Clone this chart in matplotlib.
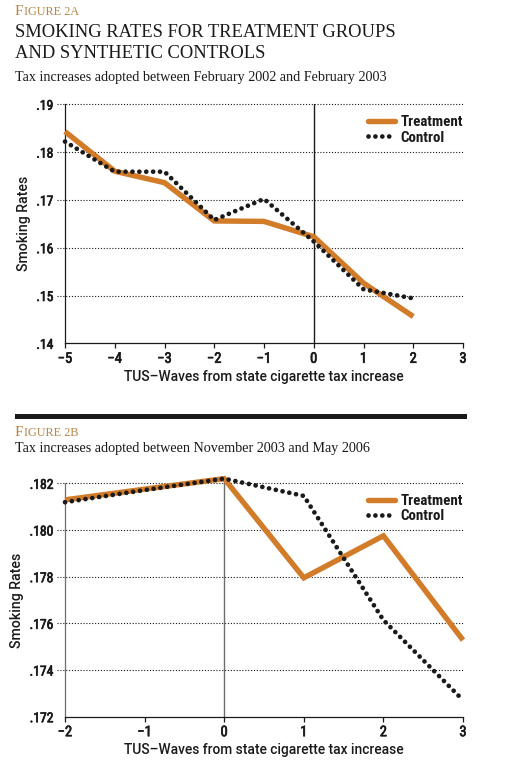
"""Smoking rates for treatment groups and synthetic controls (Figures 2A and 2B)."""

import matplotlib

matplotlib.use("Agg")

import matplotlib.patheffects as pe
import matplotlib.pyplot as plt
from matplotlib import font_manager
from matplotlib.patches import Rectangle

COLORS = {"ink": "#1a1a1a", "orange": "#d27b29", "gold": "#b8864a", "grey": "#6e6e6e"}

# Figure 2A: tax increases adopted between February 2002 and February 2003
waves_a = [-5, -4, -3, -2, -1, 0, 1, 2]
treatment_a = [0.1843, 0.1760, 0.1736, 0.1656, 0.1655, 0.1623, 0.1526, 0.1456]
control_a = [0.1822, 0.1759, 0.1759, 0.1658, 0.1702, 0.1613, 0.1513, 0.1494]
xticks_a = [-5, -4, -3, -2, -1, 0, 1, 2, 3]
yticks_a = [0.14, 0.15, 0.16, 0.17, 0.18, 0.19]

# Figure 2B: tax increases adopted between November 2003 and May 2006
waves_b = [-2, -1, 0, 1, 2, 3]
treatment_b = [0.18129, 0.18175, 0.1822, 0.17795, 0.17975, 0.17528]
control_b = [0.18119, 0.18171, 0.1822, 0.18146, 0.17614, 0.17271]
xticks_b = [-2, -1, 0, 1, 2, 3]
yticks_b = [0.172, 0.174, 0.176, 0.178, 0.180, 0.182]

names = {f.name for f in font_manager.fontManager.ttflist}
NARROW = next(
    (n for n in ["Roboto Condensed", "Liberation Sans Narrow"] if n in names),
    "DejaVu Sans",
)
SANS = "Roboto" if "Roboto" in names else "DejaVu Sans"
SERIF = "Liberation Serif" if "Liberation Serif" in names else "DejaVu Serif"
TICK_KW = {"family": NARROW, "stretch": "condensed", "weight": "normal"}
LABEL_KW = {"family": SANS, "weight": "medium"}
HEAVY = [pe.withStroke(linewidth=0.5, foreground=COLORS["ink"])]


def small_caps(fig, x, y, word, rest):
    """Draw 'FIGURE 2A' style small caps: first letter large, the rest smaller."""
    first = fig.text(x, y, word[0], fontsize=11, family=SERIF, color=COLORS["gold"], va="baseline")
    fig.canvas.draw()
    box = first.get_window_extent()
    fig.text(
        box.x1 / fig.bbox.width, y, word[1:].upper() + " " + rest,
        fontsize=8.8, family=SERIF, color=COLORS["gold"], va="baseline",
    )


def fig_xy(px, py):
    return px / 516, 1 - py / 772


def draw_panel(ax, waves, treatment, control, xticks, yticks, decimals, spine_color):
    ax.plot(waves, treatment, color=COLORS["orange"], lw=3.9, solid_capstyle="butt",
            solid_joinstyle="miter", clip_on=False, zorder=3, label="Treatment")
    ax.plot(waves, control, color=COLORS["ink"], lw=3.4, ls=(0, (0.01, 1.45)),
            dash_capstyle="round", clip_on=False, zorder=4, label="Control")
    ax.set_xlim(xticks[0], xticks[-1])
    ax.set_ylim(yticks[0], yticks[-1])
    for y in yticks[1:]:
        ax.axhline(y, xmin=-0.02, xmax=1, color=COLORS["ink"], lw=0.8,
                   ls=(0, (1, 1.6)), clip_on=False, zorder=1)
    ax.axvline(0, color=spine_color, lw=1.0, zorder=2)
    ax.set_xticks(xticks)
    ax.set_yticks(yticks)
    ax.set_yticklabels([f"{v:.{decimals}f}".lstrip("0") for v in yticks])
    ax.tick_params(axis="y", length=0, pad=8.3, labelsize=9.8)
    ax.tick_params(axis="x", length=3.6, width=0.9, pad=2.5, labelsize=10.5,
                   color=COLORS["ink"])
    for label in ax.get_xticklabels() + ax.get_yticklabels():
        label.set(**TICK_KW, color=COLORS["ink"], path_effects=HEAVY)
    ax.spines[["top", "right"]].set_visible(False)
    ax.spines["left"].set(color=spine_color, lw=0.9)
    ax.spines["bottom"].set(color=COLORS["ink"], lw=0.9)
    ax.set_ylabel("Smoking Rates", fontsize=10.2, labelpad=4, color=COLORS["ink"], **LABEL_KW)
    ax.set_xlabel("TUS\u2013Waves from state cigarette tax increase", fontsize=9.9,
                  labelpad=3, color=COLORS["ink"], **LABEL_KW)
    legend = ax.legend(loc="upper right", bbox_to_anchor=(1.0, 0.955), frameon=False,
                       handlelength=1.8, handletextpad=0.4, labelspacing=0.1,
                       borderaxespad=0, borderpad=0,
                       prop=font_manager.FontProperties(family=NARROW, stretch="condensed",
                                                        weight="bold", size=10.8))
    for handle in legend.legend_handles:
        handle.set_solid_capstyle("round")
    for text in legend.get_texts():
        text.set_color(COLORS["ink"])


fig = plt.figure(figsize=(5.16, 7.72), dpi=100)

small_caps(fig, *fig_xy(15, 15), "Figure", "2A")
fig.text(*fig_xy(15, 37), "SMOKING RATES FOR TREATMENT GROUPS", fontsize=13.3,
         family=SERIF, color=COLORS["ink"], va="baseline")
fig.text(*fig_xy(15, 58), "AND SYNTHETIC CONTROLS", fontsize=13.3,
         family=SERIF, color=COLORS["ink"], va="baseline")
fig.text(*fig_xy(15, 81), "Tax increases adopted between February 2002 and February 2003",
         fontsize=10.2, family=SERIF, color=COLORS["ink"], va="baseline")

ax_a = fig.add_axes([65 / 516, 1 - 343.3 / 772, 398 / 516, 239 / 772])
draw_panel(ax_a, waves_a, treatment_a, control_a, xticks_a, yticks_a, 2, COLORS["ink"])

fig.add_artist(Rectangle(fig_xy(15, 419), 452 / 516, 4.7 / 772,
                         transform=fig.transFigure, color=COLORS["ink"], lw=0))

small_caps(fig, *fig_xy(15, 436), "Figure", "2B")
fig.text(*fig_xy(15, 452), "Tax increases adopted between November 2003 and May 2006",
         fontsize=10.2, family=SERIF, color=COLORS["ink"], va="baseline")

ax_b = fig.add_axes([65 / 516, 1 - 716.7 / 772, 398 / 516, 233.4 / 772])
draw_panel(ax_b, waves_b, treatment_b, control_b, xticks_b, yticks_b, 3, COLORS["grey"])

fig.savefig("out.png", dpi=100)
